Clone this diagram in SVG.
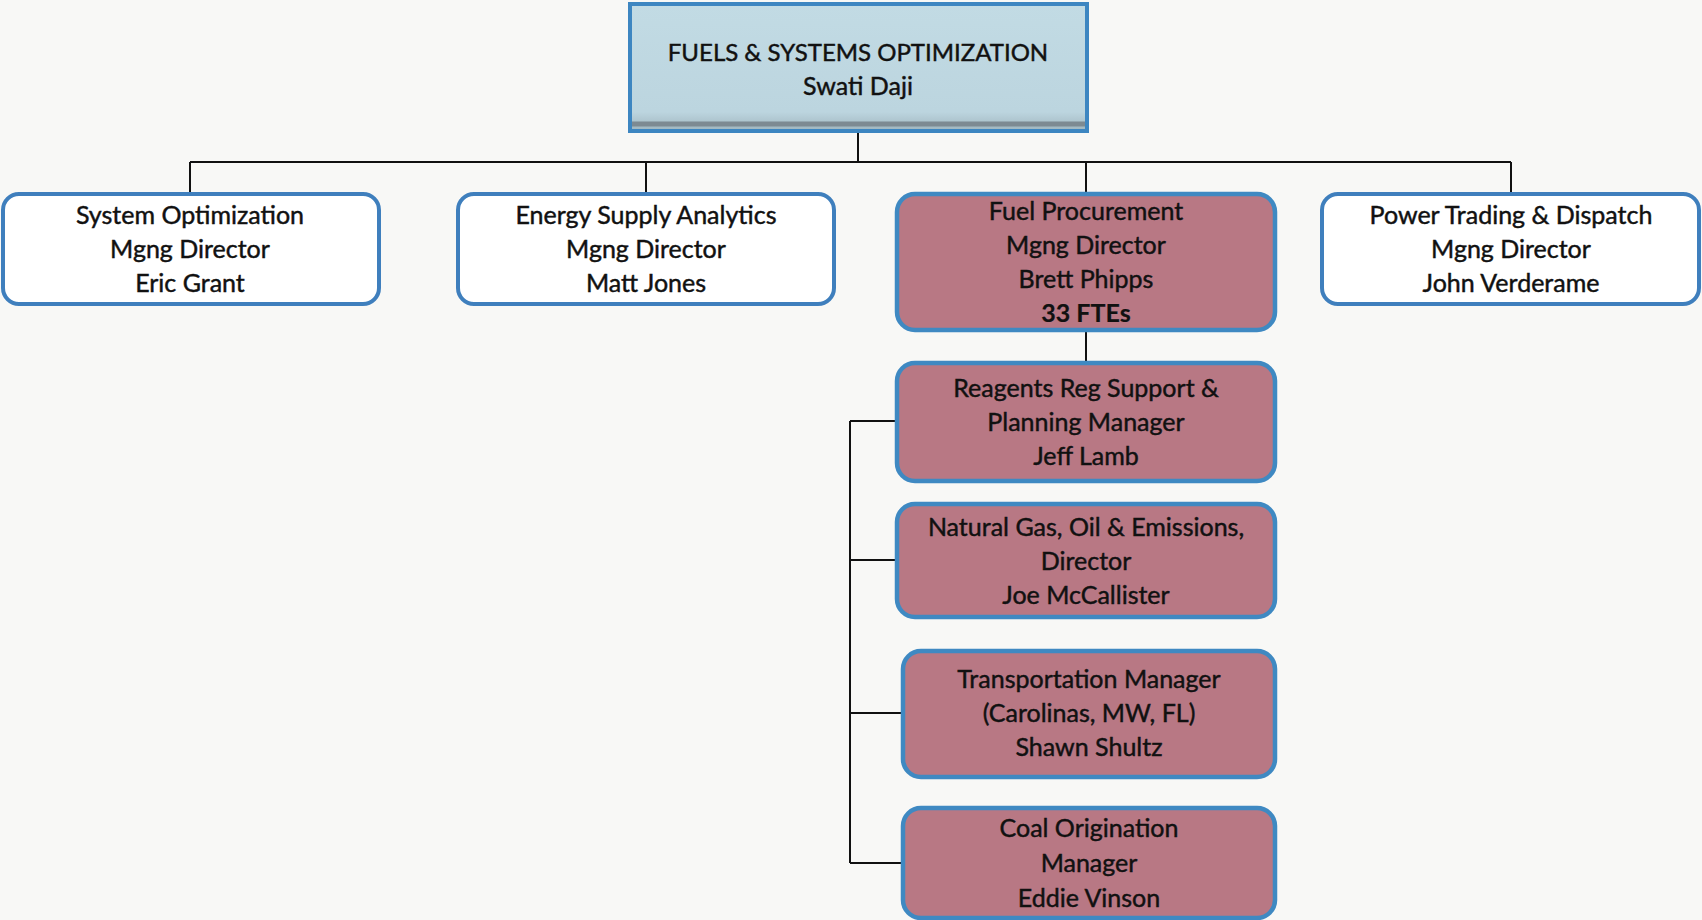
<svg xmlns="http://www.w3.org/2000/svg" width="1702" height="920" viewBox="0 0 1702 920">
  <defs>
    <linearGradient id="headShade" x1="0" y1="0" x2="0" y2="1">
      <stop offset="0" stop-color="#c2dbe4"/>
      <stop offset="0.85" stop-color="#bcd5df"/>
      <stop offset="1" stop-color="#9fb4bd"/>
    </linearGradient>
  </defs>
  <style>
    .lbl { font-family: Lato, "Open Sans", "Liberation Sans", sans-serif; font-size: 25px; fill: #111; stroke: #111; stroke-width: 0.45; text-anchor: middle; }
    .title { font-size: 24px; }
    .bold { font-weight: bold; stroke-width: 0.2; }
    .head { fill: url(#headShade); stroke: #3d86c1; stroke-width: 4; }
    .plain { fill: #ffffff; stroke: #3f7fbd; stroke-width: 4; }
    .rose { fill: #b87884; stroke: #3f89c2; stroke-width: 4.5; }
    .wire { fill: none; stroke: #111; stroke-width: 2; }
  </style>
  <rect x="0" y="0" width="1702" height="920" fill="#f8f8f6"/>

  <g id="connectors">
    <path class="wire" d="M858,132 V162 M190,162 H1511 M190,162 V193 M646,162 V193 M1086,162 V193 M1511,162 V193"/>
    <path class="wire" d="M1086,330 V362"/>
    <path class="wire" d="M850,421 V863 M850,421 H897 M850,560 H897 M850,713 H902 M850,863 H902"/>
  </g>

  <g id="fuels-systems-optimization">
    <rect class="head" x="630" y="4" width="457" height="127"/>
    <line x1="632" y1="124" x2="1085" y2="124" stroke="#7d8a92" stroke-width="5"/>
    <text class="lbl title" x="858" y="61">FUELS &amp; SYSTEMS OPTIMIZATION</text>
    <text class="lbl" x="858" y="95">Swati Daji</text>
  </g>

  <g id="system-optimization">
    <rect class="plain" x="3" y="194" width="376" height="110" rx="16"/>
    <text class="lbl" x="190" y="224">System Optimization</text>
    <text class="lbl" x="190" y="258">Mgng Director</text>
    <text class="lbl" x="190" y="292">Eric Grant</text>
  </g>

  <g id="energy-supply-analytics">
    <rect class="plain" x="458" y="194" width="376" height="110" rx="16"/>
    <text class="lbl" x="646" y="224">Energy Supply Analytics</text>
    <text class="lbl" x="646" y="258">Mgng Director</text>
    <text class="lbl" x="646" y="292">Matt Jones</text>
  </g>

  <g id="fuel-procurement">
    <rect class="rose" x="897" y="194" width="378" height="136" rx="18"/>
    <text class="lbl" x="1086" y="220">Fuel Procurement</text>
    <text class="lbl" x="1086" y="254">Mgng Director</text>
    <text class="lbl" x="1086" y="288">Brett Phipps</text>
    <text class="lbl bold" x="1086" y="322">33 FTEs</text>
  </g>

  <g id="power-trading-dispatch">
    <rect class="plain" x="1322" y="194" width="377" height="110" rx="16"/>
    <text class="lbl" x="1511" y="224">Power Trading &amp; Dispatch</text>
    <text class="lbl" x="1511" y="258">Mgng Director</text>
    <text class="lbl" x="1511" y="292">John Verderame</text>
  </g>

  <g id="reagents-reg-support">
    <rect class="rose" x="897" y="363" width="378" height="118" rx="18"/>
    <text class="lbl" x="1086" y="397">Reagents Reg Support &amp;</text>
    <text class="lbl" x="1086" y="431">Planning Manager</text>
    <text class="lbl" x="1086" y="465">Jeff Lamb</text>
  </g>

  <g id="natural-gas-oil-emissions">
    <rect class="rose" x="897" y="504" width="378" height="113" rx="18"/>
    <text class="lbl" x="1086" y="536">Natural Gas, Oil &amp; Emissions,</text>
    <text class="lbl" x="1086" y="570">Director</text>
    <text class="lbl" x="1086" y="604">Joe McCallister</text>
  </g>

  <g id="transportation-manager">
    <rect class="rose" x="903" y="651" width="372" height="126" rx="18"/>
    <text class="lbl" x="1089" y="688">Transportation Manager</text>
    <text class="lbl" x="1089" y="722">(Carolinas, MW, FL)</text>
    <text class="lbl" x="1089" y="756">Shawn Shultz</text>
  </g>

  <g id="coal-origination">
    <rect class="rose" x="903" y="808" width="372" height="110" rx="18"/>
    <text class="lbl" x="1089" y="837">Coal Origination</text>
    <text class="lbl" x="1089" y="872">Manager</text>
    <text class="lbl" x="1089" y="907">Eddie Vinson</text>
  </g>
</svg>
